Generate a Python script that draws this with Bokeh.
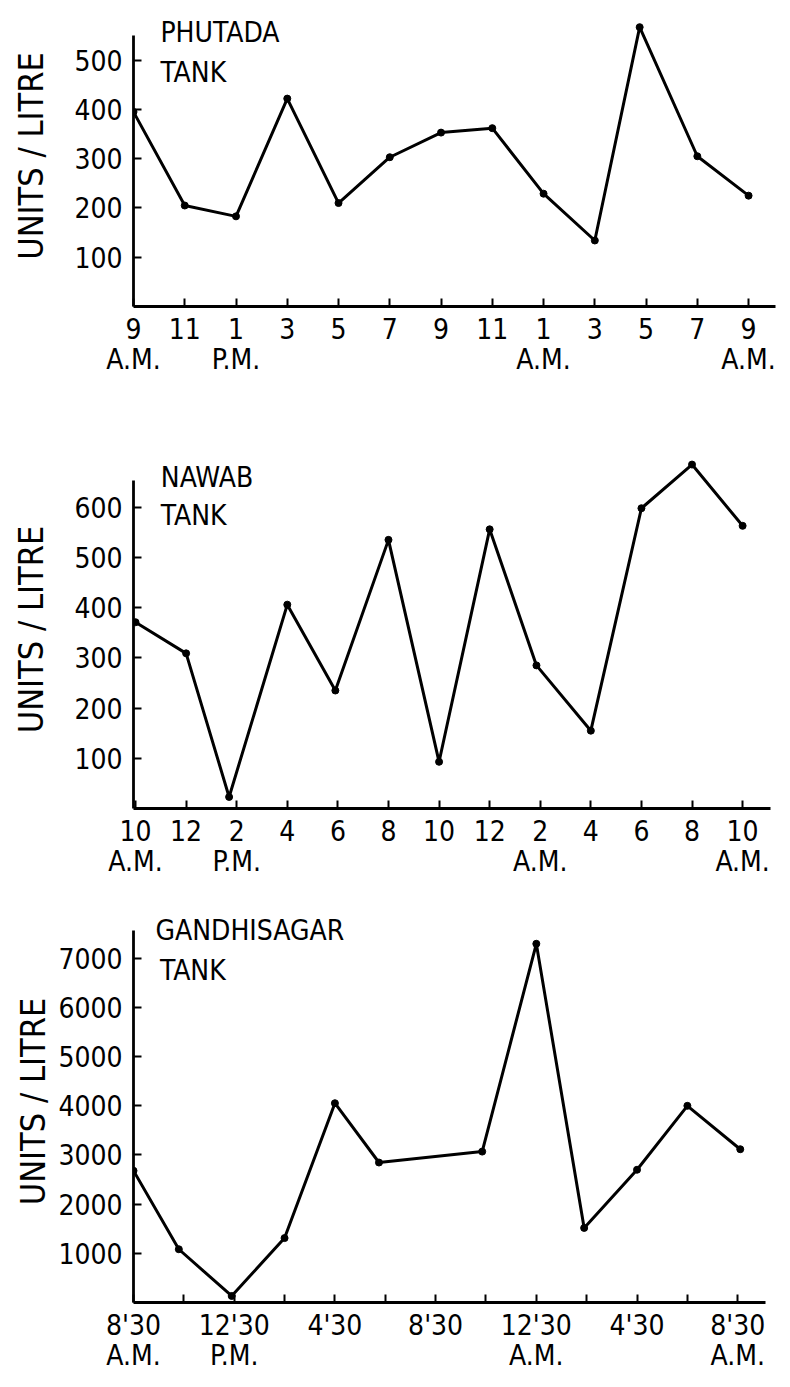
from bokeh.plotting import figure
from bokeh.models import FixedTicker, Label, Range1d
from bokeh.layouts import column
from bokeh.embed import file_html
from bokeh.resources import INLINE

FONT = "DejaVu Sans Condensed"

# ---------------- data ----------------
# hours elapsed since the first sampling time of each tank
phutada_hours = [0, 2, 4, 6, 8, 10, 12, 14, 16, 18, 19.75, 22, 24]
phutada_units = [395, 205, 183, 422, 210, 303, 353, 362, 229, 134, 567, 305, 225]
phutada_ticks = [0, 2, 4, 6, 8, 10, 12, 14, 16, 18, 20, 22, 24]
phutada_labels = ["9\nA.M.", "11", "1\nP.M.", "3", "5", "7", "9", "11",
                  "1\nA.M.", "3", "5", "7", "9\nA.M."]
phutada_yticks = [100, 200, 300, 400, 500]

nawab_hours = [0, 2, 3.7, 6, 7.9, 10, 12, 14, 15.85, 18, 20, 22, 24]
nawab_units = [371, 309, 23, 406, 235, 535, 93, 556, 285, 155, 598, 685, 563]
nawab_ticks = [0, 2, 4, 6, 8, 10, 12, 14, 16, 18, 20, 22, 24]
nawab_labels = ["10\nA.M.", "12", "2\nP.M.", "4", "6", "8", "10", "12",
                "2\nA.M.", "4", "6", "8", "10\nA.M."]
nawab_yticks = [100, 200, 300, 400, 500, 600]

gandhi_hours = [0, 1.8, 3.9, 6, 8, 9.75, 13.85, 16, 17.9, 20, 22, 24.1]
gandhi_units = [2680, 1083, 133, 1310, 4053, 2847, 3069, 7296, 1517, 2700, 4000, 3117]
gandhi_ticks = [0, 2, 4, 6, 8, 10, 12, 14, 16, 18, 20, 22, 24]
gandhi_labels = ["8'30\nA.M.", "", "12'30\nP.M.", "", "4'30", "", "8'30", "",
                 "12'30\nA.M.", "", "4'30", "", "8'30\nA.M."]
gandhi_yticks = [1000, 2000, 3000, 4000, 5000, 6000, 7000]


def make_panel(hours, units, ticks, labels, yticks, x_range, y_range,
               y_bounds, x_bounds, height, border_top, border_bottom,
               label_standoff, title_lines):
    p = figure(width=783, height=height, output_backend="svg",
               toolbar_location=None,
               x_range=Range1d(*x_range), y_range=Range1d(*y_range),
               min_border_left=133, min_border_right=8,
               min_border_top=border_top, min_border_bottom=border_bottom)
    p.outline_line_color = None
    p.grid.visible = False
    p.background_fill_color = "white"
    p.border_fill_color = "white"

    p.line(hours, units, line_color="black", line_width=3)
    p.scatter(hours, units, size=7, color="black")

    for ax in (p.xaxis[0], p.yaxis[0]):
        ax.axis_line_width = 2.8
        ax.axis_line_color = "black"
        ax.major_tick_line_width = 2
        ax.major_tick_line_color = "black"
        ax.major_tick_in = 8
        ax.major_tick_out = 0
        ax.minor_tick_line_color = None
        ax.major_label_text_font = FONT
        ax.major_label_text_font_size = "28px"
        ax.major_label_text_color = "black"

    p.xaxis.ticker = FixedTicker(ticks=ticks)
    p.xaxis.major_label_overrides = {t: lab for t, lab in zip(ticks, labels)}
    p.xaxis.major_label_standoff = 6
    p.xaxis.major_label_text_line_height = 0.92
    p.xaxis.bounds = x_bounds

    p.yaxis.ticker = FixedTicker(ticks=yticks)
    p.yaxis.major_label_standoff = 11
    p.yaxis.bounds = y_bounds
    p.yaxis.axis_label = "UNITS / LITRE"
    p.yaxis.axis_label_text_font = FONT
    p.yaxis.axis_label_text_font_size = "34px"
    p.yaxis.axis_label_text_font_style = "normal"
    p.yaxis.axis_label_text_color = "black"
    p.yaxis.axis_label_standoff = label_standoff

    for (tx, ty, text) in title_lines:
        p.add_layout(Label(x=tx, y=ty, text=text, text_font=FONT,
                           text_font_size="28px", text_color="black",
                           text_baseline="alphabetic", text_align="left"))
    return p


p1 = make_panel(phutada_hours, phutada_units, phutada_ticks, phutada_labels,
                phutada_yticks, (0, 25.05), (0, 611), (0, 550), (0, 25.05),
                390, 5, 84, 20,
                [(1.05, 556, "PHUTADA"), (1.05, 475, "TANK")])
p2 = make_panel(nawab_hours, nawab_units, nawab_ticks, nawab_labels,
                nawab_yticks, (-0.08, 25.3), (0, 713), (0, 653), (-0.08, 25.1),
                490, 60, 72, 20,
                [(1.0, 659, "NAWAB"), (1.0, 584, "TANK")])
p3 = make_panel(gandhi_hours, gandhi_units, gandhi_ticks, gandhi_labels,
                gandhi_yticks, (0, 25.5), (0, 8176), (0, 7566), (0, 25.1),
                507, 20, 85, 2,
                [(0.87, 7566, "GANDHISAGAR"), (1.05, 6752, "TANK")])

layout = column(p1, p2, p3, spacing=0)
open("out.html", "w").write(file_html(layout, INLINE))
